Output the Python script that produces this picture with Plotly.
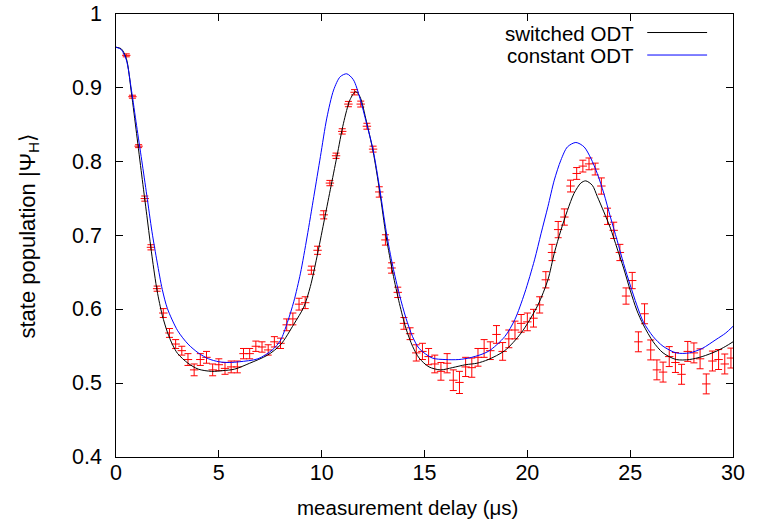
import plotly.graph_objects as go

# measured data (delay in µs, population, error)
delay = [0.5, 0.8, 1.1, 1.4, 1.7, 2.0, 2.3, 2.6, 2.9, 3.2,
         3.5, 3.8, 4.1, 4.4, 4.7, 5.0, 5.3, 5.6, 5.9, 6.2,
         6.5, 6.8, 7.1, 7.4, 7.7, 8.0, 8.3, 8.6, 8.9, 9.2,
         9.5, 9.8, 10.1, 10.4, 10.7, 11.0, 11.3, 11.6, 11.9, 12.2,
         12.5, 12.8, 13.1, 13.4, 13.7, 14.0, 14.3, 14.6, 14.9, 15.2,
         15.5, 15.8, 16.1, 16.4, 16.7, 17.0, 17.3, 17.6, 17.9, 18.2,
         18.5, 18.8, 19.1, 19.4, 19.7, 20.0, 20.3, 20.6, 20.9, 21.2,
         21.5, 21.8, 22.1, 22.4, 22.7, 23.0, 23.3, 23.6, 23.9, 24.2,
         24.5, 24.8, 25.1, 25.4, 25.7, 26.0, 26.3, 26.6, 26.9, 27.2,
         27.5, 27.8, 28.1, 28.4, 28.7, 29.0, 29.3, 29.6, 29.9]
population = [0.944, 0.888, 0.821, 0.750, 0.684, 0.628, 0.595, 0.568, 0.553, 0.544,
              0.532, 0.518, 0.532, 0.535, 0.518, 0.525, 0.520, 0.522, 0.522, 0.540,
              0.540, 0.550, 0.549, 0.545, 0.556, 0.554, 0.579, 0.587, 0.607, 0.609,
              0.653, 0.680, 0.728, 0.771, 0.808, 0.841, 0.878, 0.894, 0.878, 0.848,
              0.817, 0.759, 0.694, 0.656, 0.623, 0.581, 0.567, 0.541, 0.543, 0.536,
              0.526, 0.516, 0.527, 0.504, 0.501, 0.522, 0.521, 0.535, 0.547, 0.544,
              0.566, 0.543, 0.560, 0.572, 0.581, 0.583, 0.588, 0.606, 0.640, 0.677,
              0.708, 0.725, 0.767, 0.784, 0.794, 0.797, 0.790, 0.767, 0.726, 0.707,
              0.677, 0.618, 0.639, 0.556, 0.594, 0.545, 0.518, 0.515, 0.536, 0.528,
              0.512, 0.543, 0.541, 0.533, 0.499, 0.530, 0.532, 0.526, 0.534]
error = [0.002, 0.002, 0.002, 0.0035, 0.0035, 0.0035, 0.006, 0.006, 0.006, 0.006,
         0.008, 0.008, 0.008, 0.008, 0.008, 0.008, 0.008, 0.008, 0.008, 0.007,
         0.007, 0.007, 0.007, 0.007, 0.007, 0.007, 0.008, 0.008, 0.008, 0.008,
         0.0055, 0.0055, 0.0055, 0.0036, 0.0036, 0.0036, 0.0036, 0.0036, 0.004, 0.004,
         0.004, 0.007, 0.007, 0.007, 0.007, 0.008, 0.008, 0.011, 0.011, 0.011,
         0.012, 0.012, 0.013, 0.014, 0.015, 0.013, 0.013, 0.012, 0.012, 0.012,
         0.012, 0.012, 0.012, 0.012, 0.012, 0.012, 0.012, 0.011, 0.011, 0.011,
         0.011, 0.011, 0.008, 0.008, 0.008, 0.008, 0.008, 0.011, 0.011, 0.011,
         0.011, 0.011, 0.011, 0.0135, 0.0135, 0.0135, 0.0135, 0.0135, 0.0135, 0.0135,
         0.0135, 0.0135, 0.0135, 0.0135, 0.0135, 0.0135, 0.0135, 0.0135, 0.0135]

# model curve "switched ODT"
sw_t = [0.0, 0.25, 0.5, 0.75, 1.0, 1.25, 1.5, 1.75, 2.0, 2.25, 2.5, 2.75, 3.0, 3.5, 4.0,
        4.65, 5.2, 5.77, 6.5, 7.37, 8.0, 8.65, 9.13, 9.45, 9.77, 10.1, 10.42, 10.74,
        11.06, 11.38, 11.65, 11.86, 12.18, 12.5, 12.82, 13.14, 13.46, 13.78, 14.1,
        14.42, 14.74, 15.22, 15.78, 16.35, 17.0, 17.55, 18.1, 18.9, 19.7, 20.5, 21.0,
        21.31, 21.63, 21.95, 22.27, 22.6, 22.84, 23.16, 23.4, 23.72, 24.04, 24.36,
        24.68, 25.0, 25.32, 25.64, 26.12, 26.6, 27.24, 27.88, 28.5, 29.17, 29.65, 30.0]
sw_p = [0.955, 0.953, 0.940, 0.893, 0.838, 0.782, 0.727, 0.672, 0.625, 0.592, 0.569, 0.552,
        0.540, 0.527, 0.519, 0.516, 0.517, 0.519, 0.527, 0.538, 0.552, 0.580, 0.603, 0.631,
        0.671, 0.717, 0.762, 0.807, 0.852, 0.884, 0.895, 0.888, 0.854, 0.814, 0.760,
        0.698, 0.649, 0.608, 0.574, 0.550, 0.534, 0.522, 0.518, 0.521, 0.525, 0.527,
        0.532, 0.544, 0.568, 0.605, 0.640, 0.676, 0.707, 0.734, 0.757, 0.771, 0.774,
        0.768, 0.753, 0.732, 0.710, 0.683, 0.656, 0.626, 0.599, 0.579, 0.556, 0.541,
        0.532, 0.532, 0.536, 0.543, 0.550, 0.556]

# model curve "constant ODT"
cs_t = [0.0, 0.25, 0.5, 0.75, 1.0, 1.25, 1.5, 1.75, 2.0, 2.25, 2.5, 3.0, 3.5, 4.0, 4.5,
        5.0, 5.5, 6.0, 6.9, 7.6, 8.0, 8.33, 8.65, 8.97, 9.29, 9.62, 9.94, 10.25, 10.58,
        10.9, 11.22, 11.54, 11.86, 12.18, 12.5, 12.82, 13.14, 13.46, 13.78, 14.1, 14.42,
        14.74, 15.38, 16.0, 16.67, 17.3, 18.1, 18.9, 19.39, 19.87, 20.35, 20.67, 21.0,
        21.31, 21.63, 21.95, 22.36, 22.76, 23.08, 23.4, 23.72, 24.04, 24.36, 24.68,
        25.0, 25.32, 25.64, 26.12, 26.6, 27.24, 27.88, 28.5, 29.17, 29.65, 30.0]
cs_p = [0.955, 0.952, 0.938, 0.897, 0.849, 0.802, 0.754, 0.705, 0.664, 0.627, 0.601, 0.571,
        0.553, 0.541, 0.533, 0.529, 0.528, 0.529, 0.533, 0.545, 0.558, 0.582, 0.611,
        0.649, 0.698, 0.753, 0.807, 0.859, 0.897, 0.915, 0.919, 0.911, 0.886, 0.852,
        0.816, 0.764, 0.705, 0.658, 0.620, 0.588, 0.563, 0.547, 0.534, 0.532, 0.532,
        0.535, 0.543, 0.563, 0.586, 0.622, 0.667, 0.703, 0.739, 0.775, 0.802, 0.820,
        0.826, 0.820, 0.805, 0.784, 0.757, 0.725, 0.694, 0.662, 0.633, 0.606, 0.583,
        0.563, 0.550, 0.541, 0.541, 0.547, 0.559, 0.568, 0.577]

x_ticks = [0, 5, 10, 15, 20, 25, 30]
x_labels = ["0", "5", "10", "15", "20", "25", "30"]
y_ticks = [0.4, 0.5, 0.6, 0.7, 0.8, 0.9, 1.0]
y_labels = ["0.4", "0.5", "0.6", "0.7", "0.8", "0.9", "1"]
legend_names = ["switched ODT", "constant ODT"]
legend_colors = ["black", "rgb(0,0,255)"]
x_title = "measurement delay (μs)"
y_title = "state population |Ψ<sub>H</sub>⟩"

FONT = "Liberation Sans, Arial, sans-serif"

fig = go.Figure()
fig.add_trace(go.Scatter(
    x=delay, y=population, mode="markers",
    marker=dict(symbol="line-ew", size=6, color="red",
                line=dict(color="red", width=1)),
    error_y=dict(type="data", array=error, visible=True,
                 color="red", thickness=1, width=3.5),
    showlegend=False, hoverinfo="x+y"))
fig.add_trace(go.Scatter(
    x=sw_t, y=sw_p, mode="lines", name=legend_names[0],
    line=dict(color=legend_colors[0], width=1, shape="spline", smoothing=0.8),
    showlegend=False))
fig.add_trace(go.Scatter(
    x=cs_t, y=cs_p, mode="lines", name=legend_names[1],
    line=dict(color=legend_colors[1], width=1, shape="spline", smoothing=0.8),
    showlegend=False))

# gnuplot-style key: text right-aligned, line sample to the right
key_y = [0.9582, 0.9074]
for name, col, ky in zip(legend_names, legend_colors, key_y):
    fig.add_annotation(xref="paper", yref="paper", x=0.841, y=ky,
                       text=name, showarrow=False, xanchor="right", yanchor="middle",
                       height=20, borderpad=0,
                       font=dict(family=FONT, size=20.5, color="black"))
    fig.add_shape(type="line", xref="paper", yref="paper",
                  x0=0.861, x1=0.958, y0=ky, y1=ky,
                  line=dict(color=col, width=1))

# y tick labels (placed like gnuplot, with a wider gap to the axis)
for tv, tl in zip(y_ticks, y_labels):
    fig.add_annotation(xref="paper", yref="y", x=-0.0215, y=tv,
                       text=tl, showarrow=False, xanchor="right", yanchor="middle",
                       borderpad=0, font=dict(family=FONT, size=21.5, color="black"))

# axis titles
fig.add_annotation(xref="paper", yref="paper", x=0.472, y=-0.113,
                   text=x_title, showarrow=False, xanchor="center", yanchor="middle",
                   font=dict(family=FONT, size=20.5, color="black"))
fig.add_annotation(xref="paper", yref="paper", x=-0.1426, y=0.5,
                   text=y_title, showarrow=False, textangle=-90,
                   xanchor="center", yanchor="middle",
                   font=dict(family=FONT, size=22, color="black"))

axis_common = dict(showline=True, linecolor="black", linewidth=1, mirror="ticks",
                   ticks="inside", ticklen=7, tickcolor="black", tickwidth=1,
                   showgrid=False, zeroline=False,
                   tickfont=dict(family=FONT, size=21.5, color="black"))
fig.update_xaxes(range=[0, 30], tickvals=x_ticks, ticktext=x_labels,
                 ticklabelstandoff=-4, **axis_common)
fig.update_yaxes(range=[0.4, 1.0], tickvals=y_ticks, showticklabels=False,
                 **axis_common)
fig.update_layout(width=757, height=531,
                  margin=dict(l=116, r=17, t=14, b=74),
                  plot_bgcolor="white", paper_bgcolor="white",
                  font=dict(family=FONT, size=20, color="black"))
fig.write_html("out.html")
